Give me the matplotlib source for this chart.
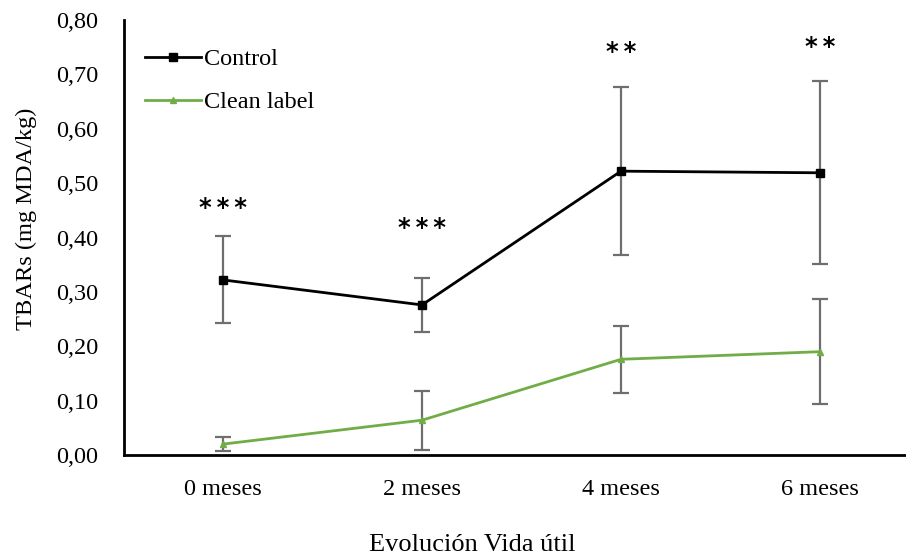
import numpy as np
import matplotlib
matplotlib.use('Agg')
import matplotlib.pyplot as plt
from matplotlib.ticker import FuncFormatter

plt.rcParams['font.family'] = ['Liberation Serif', 'DejaVu Serif']

meses = ['0 meses', '2 meses', '4 meses', '6 meses']
control = [0.322, 0.276, 0.522, 0.519]
control_err = [0.080, 0.049, 0.155, 0.168]
clean = [0.020, 0.064, 0.176, 0.190]
clean_err = [0.013, 0.054, 0.062, 0.096]
signif = ['***', '***', '**', '**']
signif_y = [0.455, 0.418, 0.742, 0.751]

x = np.arange(len(meses))

fig = plt.figure(figsize=(9.06, 5.58), dpi=100)
ax = fig.add_axes([123.5 / 906, 103 / 558, (906 - 123.5) / 906, 435 / 558])

ax.errorbar(x, control, yerr=control_err, fmt='none', ecolor='#6e6e6e',
            elinewidth=1.6, capsize=6, capthick=1.6, zorder=2)
ax.errorbar(x, clean, yerr=clean_err, fmt='none', ecolor='#6e6e6e',
            elinewidth=1.6, capsize=6, capthick=1.6, zorder=2)
ax.plot(x, control, color='black', lw=2, marker='s', ms=6, label='Control', zorder=3)
ax.plot(x, clean, color='#70ad47', lw=2, marker='^', ms=5, label='Clean label', zorder=3)

# significance marks above each month, spaced with thin spaces
for xi, s, yi in zip(x, signif, signif_y):
    ax.text(xi, yi, '\u2009'.join(s), ha='center', va='center', fontsize=17.5,
            family='DejaVu Sans', weight='bold')

ax.set_xlim(-0.5, (906 - 123.5) / 199 - 0.5)
ax.set_ylim(0, 0.80)
ax.set_yticks(np.arange(0, 0.81, 0.10))
ax.yaxis.set_major_formatter(FuncFormatter(lambda v, p: f'{v:.2f}'.replace('.', ',')))
ax.set_xticks(x)
ax.set_xticklabels(meses)
ax.tick_params(axis='both', length=0, labelsize=17.5)
ax.tick_params(axis='y', pad=18)
ax.tick_params(axis='x', pad=17)

for side in ['top', 'right']:
    ax.spines[side].set_visible(False)
ax.spines['left'].set_linewidth(2)
ax.spines['bottom'].set_linewidth(2)

fig.text(26 / 906, 1 - 219 / 558, 'TBARs (mg MDA/kg)', rotation=90,
         ha='center', va='center', fontsize=17.6)
fig.text(472.5 / 906, 1 - 551 / 558, 'Evolución Vida útil', ha='center', va='baseline', fontsize=19)

ax.legend(loc='upper left', bbox_to_anchor=(0.0, 0.985), frameon=False, fontsize=17.5,
          handlelength=2.3, handletextpad=0.1, labelspacing=0.85)

fig.savefig('out.png', dpi=100)
